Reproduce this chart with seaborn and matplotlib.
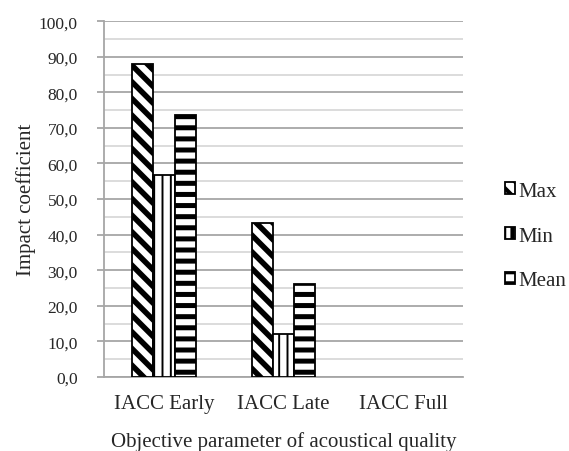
import matplotlib
matplotlib.use("Agg")
import matplotlib.pyplot as plt
import matplotlib.hatch as mhatch
from matplotlib.ticker import MultipleLocator, FuncFormatter
import seaborn as sns
import pandas as pd

# Impact coefficients of the interaural cross-correlation parameters
categories = ["IACC Early", "IACC Late", "IACC Full"]
series = ["Max", "Min", "Mean"]
max_vals = [88.0, 43.3]
min_vals = [56.7, 12.0]
mean_vals = [73.7, 26.1]

rows = []
for name, vals in zip(series, [max_vals, min_vals, mean_vals]):
    for cat, v in zip(categories, vals):
        rows.append({"Parameter": cat, "Stat": name, "Value": v})
df = pd.DataFrame(rows)


# Slightly wider spacing for the horizontal stripe pattern
class _WideHorizontalHatch(mhatch.HorizontalHatch):
    def __init__(self, hatch, density):
        super().__init__(hatch, density * 1.5)


mhatch._hatch_types[mhatch._hatch_types.index(mhatch.HorizontalHatch)] = _WideHorizontalHatch

sns.set_style("white")
plt.rcParams["font.family"] = ["Liberation Serif", "DejaVu Serif"]
plt.rcParams["hatch.linewidth"] = 3.0

fig = plt.figure(figsize=(5.69, 4.52), dpi=100)
ax = fig.add_axes([0.183, 0.164, 0.631, 0.787])

sns.barplot(data=df, x="Parameter", y="Value", hue="Stat",
            order=categories, hue_order=series, width=0.53,
            ax=ax, legend=False, errorbar=None)

hatches = {"Max": "\\\\", "Min": "||", "Mean": "-"}
hatch_lw = {"Max": 4.0, "Min": 1.4, "Mean": 3.6}
for cont, name in zip(ax.containers, series):
    for bar in cont:
        bar.set_facecolor("white")
        bar.set_edgecolor("black")
        bar.set_linewidth(1.3)
        bar.set_hatch(hatches[name])
        if hasattr(bar, "set_hatch_linewidth"):
            bar.set_hatch_linewidth(hatch_lw[name])
        bar.set_zorder(3)

ax.set_ylim(0, 100)
ax.yaxis.set_major_locator(MultipleLocator(10))
ax.yaxis.set_minor_locator(MultipleLocator(5))
ax.yaxis.set_major_formatter(FuncFormatter(lambda v, p: f"{v:.1f}".replace(".", ",")))
ax.grid(axis="y", which="major", color="#a6a6a6", linewidth=1.3, zorder=0)
ax.grid(axis="y", which="minor", color="#d9d9d9", linewidth=1.3, zorder=0)
ax.set_axisbelow(True)

for s in ["top", "right"]:
    ax.spines[s].set_visible(False)
for s in ["left", "bottom"]:
    ax.spines[s].set_color("#a6a6a6")
    ax.spines[s].set_linewidth(1.3)

ax.tick_params(axis="y", which="major", direction="out", length=5,
               color="#a6a6a6", width=1.3, labelsize=12.5, pad=14, left=True)
ax.tick_params(axis="y", which="minor", length=0)
ax.tick_params(axis="x", length=0, labelsize=15, pad=12)

ax.set_xlabel("Objective parameter of acoustical quality", fontsize=15, labelpad=13)
ax.set_ylabel("Impact coefficient", fontsize=15, labelpad=2)

fig.legend([c for c in ax.containers], series, loc="center left",
           bbox_to_anchor=(505 / 569, 1 - 237 / 452), frameon=False, fontsize=15,
           handlelength=0.5, handleheight=0.5, handletextpad=0.12,
           labelspacing=1.24, borderaxespad=0, borderpad=0)

fig.savefig("out.png", dpi=100)
